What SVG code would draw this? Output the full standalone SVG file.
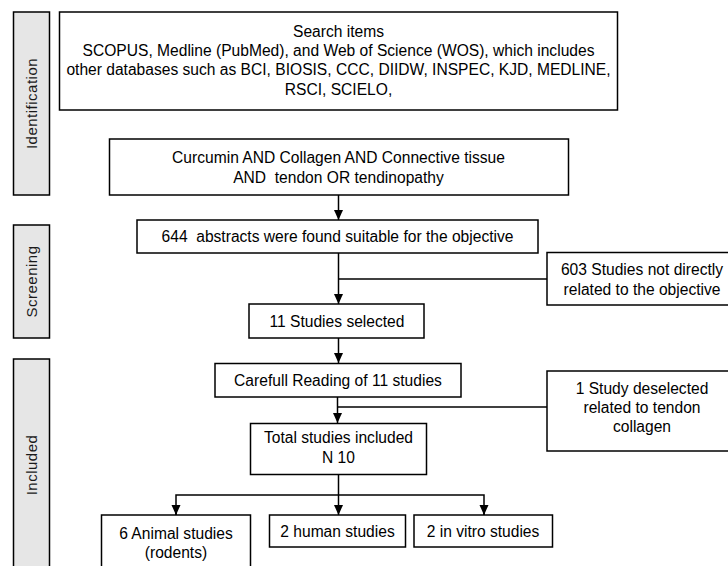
<svg xmlns="http://www.w3.org/2000/svg" width="728" height="566" viewBox="0 0 728 566">
<style>
  .box { fill: #ffffff; stroke: #000000; stroke-width: 1.5; }
  .side { fill: #e6e6e6; stroke: #000000; stroke-width: 1.5; }
  .t { font-family: "Liberation Sans", Arial, sans-serif; font-size: 15.6px; fill: #000000; text-anchor: middle; dominant-baseline: central; white-space: pre; }
  .s { font-family: "Liberation Sans", Arial, sans-serif; font-size: 15px; fill: #1a1a1a; text-anchor: middle; dominant-baseline: central; letter-spacing: 0.5px; }
  .c { fill: none; stroke: #000000; stroke-width: 1.5; }
</style>
<defs>
  <marker id="arr" markerUnits="userSpaceOnUse" markerWidth="10" markerHeight="10" refX="10" refY="4.5" orient="auto">
    <path d="M0,0 L10,4.5 L0,9 z" fill="#000000"/>
  </marker>
</defs>

<g id="side-identification">
  <rect class="side" x="13.5" y="12" width="36" height="183"/>
  <text class="s" transform="translate(31.5,103.5) rotate(-90)">Identification</text>
</g>
<g id="side-screening">
  <rect class="side" x="13.5" y="225" width="36" height="113"/>
  <text class="s" transform="translate(31.5,281.5) rotate(-90)">Screening</text>
</g>
<g id="side-included">
  <rect class="side" x="13.5" y="359" width="36" height="212"/>
  <text class="s" transform="translate(31.5,465) rotate(-90)">Included</text>
</g>

<g id="connectors">
  <line class="c" x1="338.5" y1="195" x2="338.5" y2="220" marker-end="url(#arr)"/>
  <line class="c" x1="338.5" y1="253" x2="338.5" y2="304" marker-end="url(#arr)"/>
  <line class="c" x1="338.5" y1="279" x2="547" y2="279"/>
  <line class="c" x1="338.5" y1="338" x2="338.5" y2="363" marker-end="url(#arr)"/>
  <line class="c" x1="337.5" y1="397" x2="337.5" y2="423" marker-end="url(#arr)"/>
  <line class="c" x1="337.5" y1="407" x2="547" y2="407"/>
  <line class="c" x1="338.5" y1="474" x2="338.5" y2="515" marker-end="url(#arr)"/>
  <polyline class="c" points="176,515 176,495 484,495 484,515"/>
  <line class="c" x1="176" y1="505" x2="176" y2="515" marker-end="url(#arr)"/>
  <line class="c" x1="484" y1="505" x2="484" y2="515" marker-end="url(#arr)"/>
</g>

<g id="search">
  <rect class="box" x="59.5" y="12" width="558" height="98"/>
  <text class="t" x="338.5" y="31">Search items</text>
  <text class="t" x="338.5" y="50">SCOPUS, Medline (PubMed), and Web of Science (WOS), which includes</text>
  <text class="t" x="338.5" y="69.5">other databases such as BCI, BIOSIS, CCC, DIIDW, INSPEC, KJD, MEDLINE,</text>
  <text class="t" x="338.5" y="89">RSCI, SCIELO,</text>
</g>
<g id="query">
  <rect class="box" x="109.5" y="139" width="459" height="56"/>
  <text class="t" x="338.5" y="157">Curcumin AND Collagen AND Connective tissue</text>
  <text class="t" x="338.5" y="177">AND  tendon OR tendinopathy</text>
</g>
<g id="abstracts">
  <rect class="box" x="137" y="220" width="401" height="33"/>
  <text class="t" x="337.5" y="236.5">644  abstracts were found suitable for the objective</text>
</g>
<g id="excluded603">
  <rect class="box" x="547" y="252.5" width="190" height="52.5"/>
  <text class="t" x="642" y="269.5">603 Studies not directly</text>
  <text class="t" x="642" y="289.5">related to the objective</text>
</g>
<g id="selected">
  <rect class="box" x="249" y="304" width="175" height="34"/>
  <text class="t" x="337" y="321">11 Studies selected</text>
</g>
<g id="reading">
  <rect class="box" x="215" y="363.5" width="246" height="33.5"/>
  <text class="t" x="338" y="380">Carefull Reading of 11 studies</text>
</g>
<g id="deselected">
  <rect class="box" x="547" y="371" width="190" height="80"/>
  <text class="t" x="642" y="388">1 Study deselected</text>
  <text class="t" x="642" y="407">related to tendon</text>
  <text class="t" x="642" y="426">collagen</text>
</g>
<g id="total">
  <rect class="box" x="250.5" y="423.5" width="176" height="51"/>
  <text class="t" x="338.5" y="437.5">Total studies included</text>
  <text class="t" x="338.5" y="457.5">N 10</text>
</g>
<g id="animal">
  <rect class="box" x="101.5" y="515" width="149" height="60"/>
  <text class="t" x="176" y="533.5">6 Animal studies</text>
  <text class="t" x="176" y="552">(rodents)</text>
</g>
<g id="human">
  <rect class="box" x="269.5" y="515" width="136" height="32"/>
  <text class="t" x="337.5" y="531.5">2 human studies</text>
</g>
<g id="invitro">
  <rect class="box" x="414" y="515" width="138.5" height="32"/>
  <text class="t" x="483" y="531.5">2 in vitro studies</text>
</g>
</svg>
